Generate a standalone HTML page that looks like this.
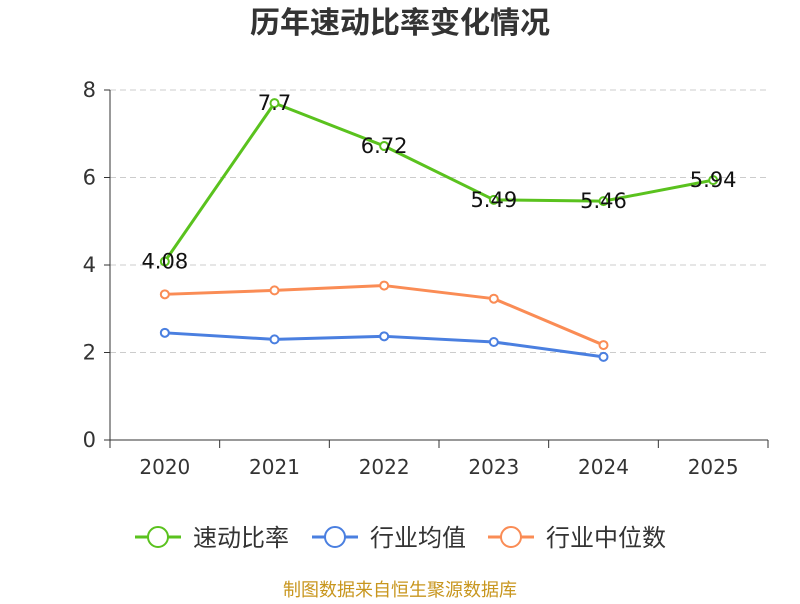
<!DOCTYPE html>
<html><head><meta charset="utf-8"><style>
body{margin:0;background:#fff;font-family:"DejaVu Sans","Noto Sans CJK SC",sans-serif}
</style></head><body>
<svg id="c" width="800" height="600" xmlns="http://www.w3.org/2000/svg">
<text x="400" y="33" text-anchor="middle" font-size="30" font-weight="bold" fill="#333" font-family="DejaVu Sans, Noto Sans CJK SC, sans-serif">历年速动比率变化情况</text>
<g id="grid"></g><g id="axes"></g><g id="series"></g><g id="legend"></g>
<text x="400" y="596" text-anchor="middle" font-size="18" fill="#c8961e" font-family="DejaVu Sans, Noto Sans CJK SC, sans-serif">制图数据来自恒生聚源数据库</text>
</svg>
<script>
const categories=["2020","2021","2022","2023","2024","2025"];
const quickRatio=[4.08,7.7,6.72,5.49,5.46,5.94];
const industryAvg=[2.45,2.3,2.37,2.24,1.9];
const industryMedian=[3.33,3.42,3.53,3.23,2.17];
const yTicks=[0,2,4,6,8];
const NS="http://www.w3.org/2000/svg";
const L=110,R=768,T=90,B=440,yMax=8;
const bw=(R-L)/categories.length;
const xs=i=>L+bw*(i+0.5);
const ys=v=>B-(v/yMax)*(B-T);
function mk(tag,attrs,parent,text){const e=document.createElementNS(NS,tag);for(const k in attrs)e.setAttribute(k,attrs[k]);if(text!==undefined)e.textContent=text;document.getElementById(parent).appendChild(e);return e;}
const F="DejaVu Sans, Noto Sans CJK SC, sans-serif";
yTicks.forEach(t=>{
 if(t>0){const g=mk('line',{x1:L,x2:R,y1:ys(t),y2:ys(t),stroke:'#ccc','stroke-dasharray':'6,4'},'grid');
 
 }
 const tl=mk('text',{x:96,y:ys(t)+7,'text-anchor':'end','font-size':21,fill:'#333','font-family':F},'axes',String(t));
 
 
 const tk=mk('line',{x1:104,x2:110,y1:ys(t),y2:ys(t),stroke:'#333'},'axes');
 
 
});
const ya=mk('line',{x1:L,x2:L,y1:T,y2:B,stroke:'#333'},'axes');


const xa=mk('line',{x1:L,x2:R,y1:B,y2:B,stroke:'#333'},'axes');


for(let i=0;i<=categories.length;i++){const tk=mk('line',{x1:L+bw*i,x2:L+bw*i,y1:B,y2:B+8,stroke:'#333'},'axes');

}
categories.forEach((c,i)=>{const t=mk('text',{x:xs(i),y:B+34,'text-anchor':'middle','font-size':20,fill:'#333','font-family':F},'axes',c);

});
function series(vals,color,name,labels){
 const p=mk('polyline',{points:vals.map((v,i)=>xs(i)+','+ys(v)).join(' '),fill:'none',stroke:color,'stroke-width':3,'stroke-linejoin':'round'},'series');
 
 
 vals.forEach((v,i)=>{const c=mk('circle',{cx:xs(i),cy:ys(v),r:4,fill:'#fff',stroke:color,'stroke-width':2},'series');
 
 
 if(labels){const t=mk('text',{x:xs(i),y:ys(v)+7,'text-anchor':'middle','font-size':21,fill:'#111','font-family':F},'series',String(v));
 
 }});
}
series(industryAvg,'#4a7fe0','industry-avg',false);
series(industryMedian,'#fa8c55','industry-median',false);
series(quickRatio,'#5ac21e','quick-ratio',true);
const leg=[["速动比率","#5ac21e",135],["行业均值","#4a7fe0",312],["行业中位数","#fa8c55",488]];
leg.forEach(([n,c,x],i)=>{
 const l=mk('line',{x1:x,x2:x+46,y1:537,y2:537,stroke:c,'stroke-width':3},'legend');
 
 
 const ci=mk('circle',{cx:x+23,cy:537,r:10,fill:'#fff',stroke:c,'stroke-width':2},'legend');
 
 
 const t=mk('text',{x:x+58,y:546,'font-size':24,fill:'#333','font-family':F},'legend',n);
 
 
});
</script>
</body></html>
